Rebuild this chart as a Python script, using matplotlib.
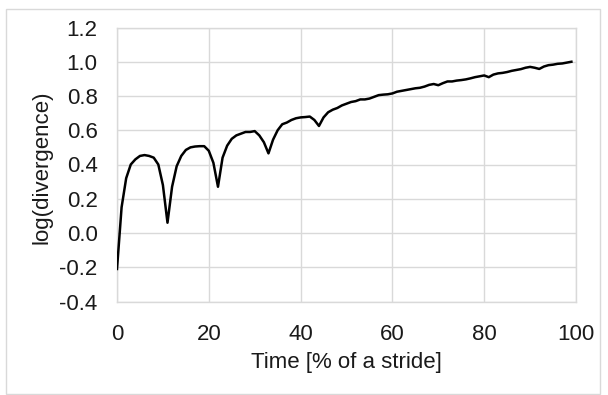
import matplotlib
matplotlib.use("Agg")
import matplotlib.pyplot as plt
from matplotlib.patches import Rectangle

time_pct = list(range(100))
log_divergence = [
    -0.21, 0.15, 0.32, 0.40, 0.43, 0.45, 0.455, 0.45, 0.44, 0.40,
    0.28, 0.06, 0.27, 0.39, 0.45, 0.485, 0.50, 0.505, 0.507, 0.507,
    0.48, 0.41, 0.27, 0.44, 0.51, 0.55, 0.57, 0.58, 0.59, 0.59,
    0.595, 0.57, 0.53, 0.465, 0.545, 0.60, 0.635, 0.645, 0.66, 0.67,
    0.675, 0.677, 0.68, 0.66, 0.625, 0.675, 0.705, 0.72, 0.73, 0.745,
    0.755, 0.765, 0.77, 0.78, 0.78, 0.785, 0.795, 0.805, 0.808, 0.81,
    0.815, 0.825, 0.83, 0.835, 0.84, 0.845, 0.848, 0.855, 0.865, 0.87,
    0.863, 0.875, 0.885, 0.885, 0.89, 0.893, 0.897, 0.903, 0.91, 0.915,
    0.92, 0.91, 0.925, 0.932, 0.935, 0.94, 0.947, 0.952, 0.957, 0.965,
    0.97, 0.965, 0.958, 0.972, 0.98, 0.983, 0.988, 0.99, 0.995, 1.0,
]
x_ticks = [0, 20, 40, 60, 80, 100]
y_ticks = [-0.4, -0.2, 0.0, 0.2, 0.4, 0.6, 0.8, 1.0, 1.2]
x_label = "Time [% of a stride]"
y_label = "log(divergence)"

plt.rcParams['font.family'] = ['Liberation Sans', 'DejaVu Sans']

W, H = 608, 395
fig = plt.figure(figsize=(W / 100, H / 100), dpi=100)
fig.patch.set_facecolor("white")
fig.patches.append(Rectangle((5.5 / W, 1 - 393.5 / H), 594.5 / W, 385 / H,
                             transform=fig.transFigure, fill=False,
                             edgecolor="#d9d9d9", linewidth=1.0))

left, right, top, bottom = 117 / W, 576 / W, 27.5 / H, 301.5 / H
ax = fig.add_axes([left, 1 - bottom, right - left, bottom - top])

ax.plot(time_pct, log_divergence, color="black", linewidth=1.8,
        solid_joinstyle="round", zorder=3)

ax.set_xlim(0, 100)
ax.set_ylim(-0.4, 1.2)
ax.set_xticks(x_ticks)
ax.set_yticks(y_ticks)
ax.set_xticklabels([str(t) for t in x_ticks])
ax.set_yticklabels([f"{t:.1f}" for t in y_ticks])
ax.grid(True, color="#d9d9d9", linewidth=1.0)
ax.set_axisbelow(True)
for s in ax.spines.values():
    s.set_color("#d9d9d9")
    s.set_linewidth(1.0)

txt = "#1a1a1a"
ax.tick_params(axis="both", length=0, labelsize=16, colors=txt)
ax.tick_params(axis="y", pad=14)
ax.tick_params(axis="x", pad=16)

fig.text(346.5 / W, 1 - 368 / H, x_label, fontsize=16, color=txt,
         ha="center", va="baseline")
fig.text(42 / W, 1 - 167 / H, y_label, fontsize=16, color=txt,
         ha="center", va="center", rotation=90)

fig.savefig("out.png", dpi=100, facecolor="white")
